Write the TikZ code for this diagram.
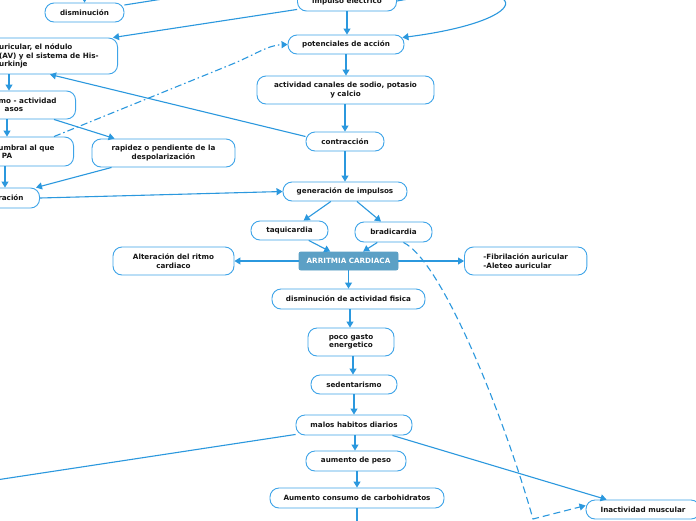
\documentclass[tikz,border=0pt]{standalone}
\usepackage{fontspec}
\setmainfont{DejaVu Sans}
\usetikzlibrary{arrows.meta}
\definecolor{linec}{RGB}{43,152,222}
\definecolor{bordc}{RGB}{62,164,232}
\definecolor{arritc}{RGB}{92,160,197}
\definecolor{txtc}{RGB}{22,22,22}
\begin{document}
\begin{tikzpicture}[x=1pt,y=-1pt,
  box/.style={draw=bordc, line width=0.9pt, rounded corners=9pt, fill=white,
    font=\fontsize{7.2}{8.4}\selectfont\bfseries, text=txtc, align=center, inner sep=0pt},
  arr/.style={draw=linec, line width=1.1pt, -{Triangle[length=6pt,width=7pt]}},
  ln/.style={draw=linec, line width=1.1pt},
  dsh/.style={arr, dash pattern=on 7pt off 4pt},
  dshdot/.style={arr, dash pattern=on 7pt off 3pt on 1.5pt off 3pt},
]
\useasboundingbox (0,0) rectangle (696,520);
\fill[white] (0,0) rectangle (696,520);

% ---- nodes ----
\node[box, minimum width=79pt, minimum height=19pt] (dism) at (84.5,12.5) {disminución};
\node[box, minimum width=99pt, minimum height=20pt] (impulso) at (347,1) {impulso eléctrico};
\node[box, minimum width=116pt, minimum height=19pt] (poten) at (346,44.5) {potenciales de acción};
\node[box, minimum width=177pt, minimum height=28pt] (canales) at (345.5,90) {actividad canales de sodio, potasio\\y calcio};
\node[box, minimum width=78pt, minimum height=19pt] (contr) at (345,141.5) {contracción};
\node[box, minimum width=124pt, minimum height=19pt] (gener) at (345,191.5) {generación de impulsos};
\node[box, minimum width=77pt, minimum height=19pt] (taqui) at (289.5,230.5) {taquicardia};
\node[box, minimum width=77pt, minimum height=20pt] (bradi) at (393.5,232) {bradicardia};
\node[box, draw=arritc, fill=arritc, text=white, rounded corners=2pt, minimum width=99pt, minimum height=18pt] (arrit) at (348.5,261) {ARRITMIA CARDIACA};
\node[box, minimum width=121pt, minimum height=28pt] (alter) at (173.5,261) {Alteración del ritmo\\cardiaco};
\node[box, align=left, anchor=west, inner xsep=19pt, minimum height=28pt] (fibri) at (464,261) {-Fibrilación auricular\\-Aleteo auricular};
\node[box, minimum width=153pt, minimum height=20pt] (dismact) at (348.5,299) {disminución de actividad fisica};
\node[box, minimum width=86pt, minimum height=28pt] (poco) at (351,342) {poco gasto\\energetico};
\node[box, minimum width=86pt, minimum height=19pt] (seden) at (354,384.5) {sedentarismo};
\node[box, minimum width=116pt, minimum height=20pt] (malos) at (354,425) {malos habitos diarios};
\node[box, minimum width=100pt, minimum height=20pt] (aumento) at (356,461) {aumento de peso};
\node[box, minimum width=174pt, minimum height=20pt] (carbo) at (357,498) {Aumento consumo de carbohidratos};
\node[box, minimum width=114pt, minimum height=19pt] (inact) at (643,509.5) {Inactividad muscular};

\node[box, align=left, anchor=east, inner xsep=19pt, minimum height=36pt] (auric) at (118,56) {uricular, el nódulo\\(AV) y el sistema de His-\\urkinje};
\node[box, align=left, anchor=east, inner xsep=19pt, minimum height=28pt] (ritmo) at (76,105) {mo - actividad\\\hspace*{6pt}asos};
\node[box, align=left, anchor=east, inner xsep=19pt, minimum height=29pt] (umbral) at (74,151.5) {umbral al que\\\hspace*{3.5pt}PA};
\node[box, minimum width=143pt, minimum height=28pt] (rapidez) at (163.5,153) {rapidez o pendiente de la\\despolarización};
\node[box, align=left, anchor=east, inner xsep=16pt, minimum height=20pt] (racion) at (40,198) {ración};

% free ends
\coordinate (dismin) at (85,-15);
\coordinate (dtop) at (220,-10);
\coordinate (malosend) at (-50,487);
\coordinate (carboend) at (357,530);
\coordinate (dbend) at (533,519);

% ---- connectors ----
\draw[arr] (dismin) -- (dism.north);
\draw[ln] (dtop) -- ([yshift=7.5pt]dism.east);
\draw[arr] (347,0 |- impulso.south) -- (347,0 |- poten.north);
\draw[arr] ([yshift=2pt]impulso.south west) -- ([xshift=-5pt]auric.north east);
\draw[arr] (impulso.east) .. controls (540,-25) and (540,20) .. ([shift={(-2pt,7pt)}]poten.east);
\draw[arr] (346,0 |- poten.south) -- (346,0 |- canales.north);
\draw[arr] (345,0 |- canales.south) -- (345,0 |- contr.north);
\draw[arr] ([yshift=5pt]contr.west) -- (50,0 |- auric.south);
\draw[arr] (345,0 |- contr.south) -- (345,0 |- gener.north);
\draw[arr] (gener) -- (taqui);
\draw[arr] (gener) -- (bradi);
\draw[arr] (taqui) -- (arrit);
\draw[arr] (bradi) -- (arrit);
\draw[arr] (arrit.west) -- (alter.east);
\draw[arr] (arrit.east) -- (fibri.west);
\draw[arr] (348.5,0 |- arrit.south) -- (348.5,0 |- dismact.north);
\draw[arr] (350,0 |- dismact.south) -- (350,0 |- poco.north);
\draw[arr] (353,0 |- poco.south) -- (353,0 |- seden.north);
\draw[arr] (354,0 |- seden.south) -- (354,0 |- malos.north);
\draw[arr] (355,0 |- malos.south) -- (355,0 |- aumento.north);
\draw[arr] (357,0 |- aumento.south) -- (357,0 |- carbo.north);
\draw[ln] (357,0 |- carbo.south) -- (carboend);
\draw[ln] ([yshift=1pt]malos.south west) -- (malosend);
\draw[arr] ([xshift=-20pt]malos.south east) -- ([xshift=21pt]inact.north west);
\draw[dsh] ([xshift=-29pt]bradi.south east) .. controls (443,262) and (505,420) .. (dbend) -- ([yshift=4pt]inact.west);

\draw[arr] (9,0 |- auric.south) -- (9,0 |- ritmo.north);
\draw[arr] (7,0 |- ritmo.south) -- (7,0 |- umbral.north);
\draw[arr] ([xshift=-22pt]ritmo.south east) -- ([xshift=23pt]rapidez.north west);
\draw[arr] (5,0 |- umbral.south) -- (5,0 |- racion.north);
\draw[arr] ([xshift=20pt]rapidez.south west) -- ([xshift=-4pt]racion.north east);
\draw[arr] (racion.east) -- (gener.west);
\draw[dshdot] ([xshift=-20pt]umbral.north east) -- (230,65) .. controls (255,54.8) and (268,45) .. (poten.west);
\end{tikzpicture}
\end{document}
